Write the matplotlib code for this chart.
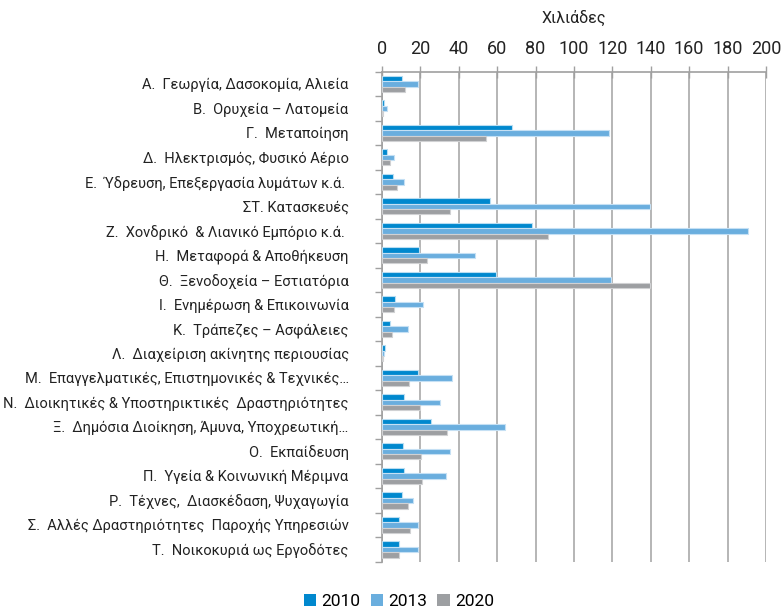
import numpy as np
import matplotlib
matplotlib.use("Agg")
import matplotlib.pyplot as plt
from matplotlib.patches import Patch

plt.rcParams['font.family'] = ['Roboto', 'DejaVu Sans']

# data (thousands)
categories = [
    "Α.  Γεωργία, Δασοκομία, Αλιεία",
    "Β.  Ορυχεία – Λατομεία",
    "Γ.  Μεταποίηση",
    "Δ.  Ηλεκτρισμός, Φυσικό Αέριο",
    "Ε.  Ύδρευση, Επεξεργασία λυμάτων κ.ά. ",
    "ΣΤ. Κατασκευές",
    "Ζ.  Χονδρικό  & Λιανικό Εμπόριο κ.ά. ",
    "Η.  Μεταφορά & Αποθήκευση",
    "Θ.  Ξενοδοχεία – Εστιατόρια",
    "Ι.  Ενημέρωση & Επικοινωνία",
    "Κ.  Τράπεζες – Ασφάλειες",
    "Λ.  Διαχείριση ακίνητης περιουσίας",
    "Μ.  Επαγγελματικές, Επιστημονικές & Τεχνικές…",
    "Ν.  Διοικητικές & Υποστηρικτικές  Δραστηριότητες",
    "Ξ.  Δημόσια Διοίκηση, Άμυνα, Υποχρεωτική…",
    "Ο.  Εκπαίδευση",
    "Π.  Υγεία & Κοινωνική Μέριμνα",
    "Ρ.  Τέχνες,  Διασκέδαση, Ψυχαγωγία",
    "Σ.  Αλλές Δραστηριότητες  Παροχής Υπηρεσιών",
    "Τ.  Νοικοκυριά ως Εργοδότες",
]
v2010 = [10.2, 1.2, 67.9, 2.4, 5.7, 56.3, 78.3, 19.4, 59.5, 6.9,
         4.0, 1.7, 18.6, 11.3, 25.3, 10.8, 11.3, 10.2, 8.7, 8.7]
v2013 = [18.6, 2.6, 118.0, 6.3, 11.3, 139.8, 190.6, 48.6, 119.1, 21.4,
         13.5, 0.9, 36.6, 30.0, 63.9, 35.4, 33.2, 16.3, 18.6, 18.6]
v2020 = [12.0, 0.7, 54.2, 4.0, 8.0, 35.4, 86.6, 23.4, 139.8, 6.4,
         5.4, 0.5, 14.1, 19.8, 34.0, 20.5, 20.8, 13.4, 14.4, 9.0]
years = ["2010", "2013", "2020"]
colors = ["#0088CE", "#6AAEDE", "#9D9FA2"]
edges = ["#B8DDF2", "#C5E0F4", "#D0D1D3"]

fig = plt.figure(figsize=(7.82, 6.08), dpi=100)
ax = fig.add_axes([0.4885, 0.0762, 0.491, 0.806])

y = np.arange(len(categories))
h = 0.22
for k, vals in enumerate([v2010, v2013, v2020]):
    ax.barh(y + (k - 1) * h, vals, height=h, color=colors[k],
            edgecolor=edges[k], linewidth=0.8, zorder=3)

ax.set_xlim(0, 200)
ax.set_ylim(len(categories) - 0.5, -0.5)
ax.xaxis.tick_top()
ax.xaxis.set_label_position("top")
ax.set_xticks(np.arange(0, 201, 20))
ax.set_xlabel("Χιλιάδες", fontsize=11.5, color="#222222", labelpad=12)
ax.tick_params(axis="x", direction="inout", length=8, width=1, color="#A0A0A0",
               labelsize=13, labelcolor="#222222", pad=6)

ax.set_yticks(y)
ax.set_yticklabels(categories, fontsize=10.5, color="#222222")
ax.set_yticks(np.arange(-0.5, len(categories) + 0.5, 1), minor=True)
ax.tick_params(axis="y", which="major", length=0, pad=24)
ax.tick_params(axis="y", which="minor", length=5, width=1, color="#A0A0A0")

ax.grid(axis="x", color="#B5B5B5", linewidth=1.4, zorder=0)
for s in ["right", "bottom"]:
    ax.spines[s].set_visible(False)
for s in ["top", "left"]:
    ax.spines[s].set_color("#A0A0A0")
    ax.spines[s].set_linewidth(1.2)

handles = [Patch(facecolor=c, edgecolor="none") for c in colors]
fig.legend(handles, years, loc="lower center", bbox_to_anchor=(0.51, -0.028),
           ncol=3, frameon=False, fontsize=12.5, handlelength=0.7, handleheight=0.7,
           handletextpad=0.3, columnspacing=0.6)

fig.savefig("out.png", dpi=100)
